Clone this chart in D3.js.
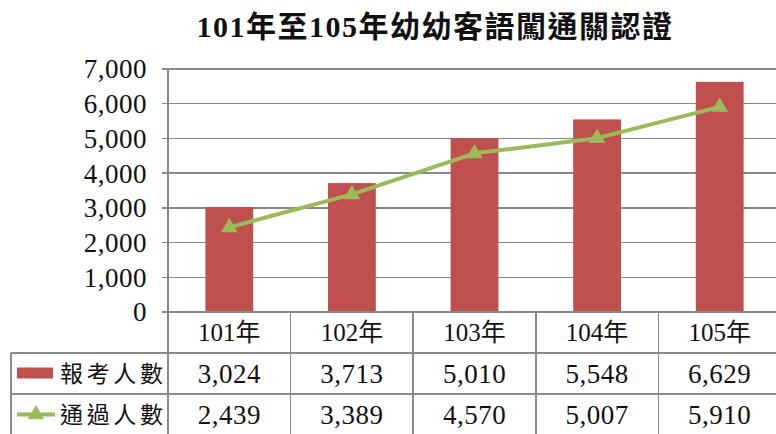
<!DOCTYPE html>
<meta charset="utf-8">
<style>
body, html {
  padding: 0;
  margin: 0;
  background: #fff;
}
text {
  font-family: "Liberation Serif", "Noto Sans CJK TC", serif;
  fill: #111;
}
.grid line, .border {
  stroke: #8a8a8a;
  stroke-width: 1.5px;
  shape-rendering: crispEdges;
}
</style>
<body>
<script src="https://d3js.org/d3.v7.min.js"></script>
<script>

var width = 776,
    height = 434

var title = "101年至105年幼幼客語闖通關認證"
var years = ["101年", "102年", "103年", "104年", "105年"]
var applicants = [3024, 3713, 5010, 5548, 6629]
var passed = [2439, 3389, 4570, 5007, 5910]
var seriesNames = ["報考人數", "通過人數"]
var yTicks = [0, 1000, 2000, 3000, 4000, 5000, 6000, 7000]

var red = "#c0504d",
    green = "#9bbb59"

var plotLeft = 168,
    plotRight = 781,
    plotTop = 69,
    plotBottom = 312,
    rowH = 41,
    tableLeft = 11

var fmt = d3.format(",")

var svg = d3.select("body").append("svg")
    .attr("width", width)
    .attr("height", height)

var x = d3.scaleBand()
    .domain(years)
    .range([plotLeft, plotRight])
    .padding(0)

var y = d3.scaleLinear()
    .domain([0, 7000])
    .range([plotBottom, plotTop])

// title
svg.append("text")
    .attr("x", 435)
    .attr("y", 37)
    .attr("text-anchor", "middle")
    .style("font-size", "30px")
    .style("font-weight", "bold")
    .style("letter-spacing", "1.5px")
    .text(title)

// gridlines + ticks
var grid = svg.append("g").attr("class", "grid")

grid.selectAll("line.g")
    .data(yTicks.filter(function(d) { return d > 0 }))
    .enter().append("line")
    .attr("class", "g")
    .attr("x1", plotLeft).attr("x2", plotRight)
    .attr("y1", function(d) { return y(d) })
    .attr("y2", function(d) { return y(d) })

grid.selectAll("line.t")
    .data(yTicks)
    .enter().append("line")
    .attr("class", "t")
    .attr("x1", plotLeft - 6).attr("x2", plotLeft)
    .attr("y1", function(d) { return y(d) })
    .attr("y2", function(d) { return y(d) })

svg.append("g").selectAll("text")
    .data(yTicks)
    .enter().append("text")
    .attr("x", 147)
    .attr("y", function(d) { return y(d) })
    .attr("dy", "0.35em")
    .attr("text-anchor", "end")
    .style("font-size", "27px")
    .style("letter-spacing", "0.5px")
    .text(function(d) { return fmt(d) })

// bars
var barW = x.bandwidth() * 0.39

svg.append("g").selectAll("rect")
    .data(applicants)
    .enter().append("rect")
    .attr("x", function(d, i) { return x(years[i]) + (x.bandwidth() - barW) / 2 })
    .attr("y", function(d) { return y(d) })
    .attr("width", barW)
    .attr("height", function(d) { return y(0) - y(d) })
    .attr("fill", red)

// line
var line = d3.line()
    .x(function(d, i) { return x(years[i]) + x.bandwidth() / 2 })
    .y(function(d) { return y(d) })

svg.append("path")
    .datum(passed)
    .attr("d", line)
    .attr("fill", "none")
    .attr("stroke", green)
    .attr("stroke-width", 4)
    .attr("stroke-linejoin", "round")

var tri = d3.symbol().type(d3.symbolTriangle).size(120)

svg.append("g").selectAll("path")
    .data(passed)
    .enter().append("path")
    .attr("d", tri)
    .attr("transform", function(d, i) {
        return "translate(" + (x(years[i]) + x.bandwidth() / 2) + "," + y(d) + ")"
    })
    .attr("fill", green)

// data table
var border = svg.append("g")

border.append("line").attr("class", "border")
    .attr("x1", plotLeft).attr("x2", plotRight)
    .attr("y1", plotBottom).attr("y2", plotBottom)

;[1, 2].forEach(function(r) {
    border.append("line").attr("class", "border")
        .attr("x1", tableLeft).attr("x2", plotRight)
        .attr("y1", plotBottom + r * rowH).attr("y2", plotBottom + r * rowH)
})

border.append("line").attr("class", "border")
    .attr("x1", plotLeft).attr("x2", plotLeft)
    .attr("y1", plotTop).attr("y2", height)

border.append("line").attr("class", "border")
    .attr("x1", tableLeft).attr("x2", tableLeft)
    .attr("y1", plotBottom + rowH).attr("y2", height)

border.selectAll("line.col")
    .data(years.slice(1))
    .enter().append("line")
    .attr("class", "border col")
    .attr("x1", function(d) { return x(d) }).attr("x2", function(d) { return x(d) })
    .attr("y1", plotBottom).attr("y2", height)

// header row
svg.append("g").selectAll("text")
    .data(years)
    .enter().append("text")
    .attr("x", function(d) { return x(d) + x.bandwidth() / 2 })
    .attr("y", plotBottom + rowH / 2)
    .attr("dy", "0.35em")
    .attr("text-anchor", "middle")
    .style("font-size", "25px")
    .text(function(d) { return d })

// value rows
;[applicants, passed].forEach(function(vals, r) {
    var cy = plotBottom + rowH * (r + 1) + rowH / 2
    svg.append("g").selectAll("text")
        .data(vals)
        .enter().append("text")
        .attr("x", function(d, i) { return x(years[i]) + x.bandwidth() / 2 })
        .attr("y", cy)
        .attr("dy", "0.35em")
        .attr("text-anchor", "middle")
        .style("font-size", "27px")
        .style("letter-spacing", "0.5px")
        .text(function(d) { return fmt(d) })

    svg.append("text")
        .attr("x", 60)
        .attr("y", cy)
        .attr("dy", "0.35em")
        .attr("textLength", 103)
        .attr("lengthAdjust", "spacing")
        .style("font-size", "23px")
        .text(seriesNames[r])
})

// legend keys
var r1 = plotBottom + rowH * 1.5,
    r2 = plotBottom + rowH * 2.5

svg.append("rect")
    .attr("x", 17).attr("y", r1 - 6)
    .attr("width", 36).attr("height", 11)
    .attr("fill", red)

svg.append("line")
    .attr("x1", 17).attr("x2", 55)
    .attr("y1", r2).attr("y2", r2)
    .attr("stroke", green)
    .attr("stroke-width", 4)

svg.append("path")
    .attr("d", tri)
    .attr("transform", "translate(36," + r2 + ")")
    .attr("fill", green)

</script>
</body>
